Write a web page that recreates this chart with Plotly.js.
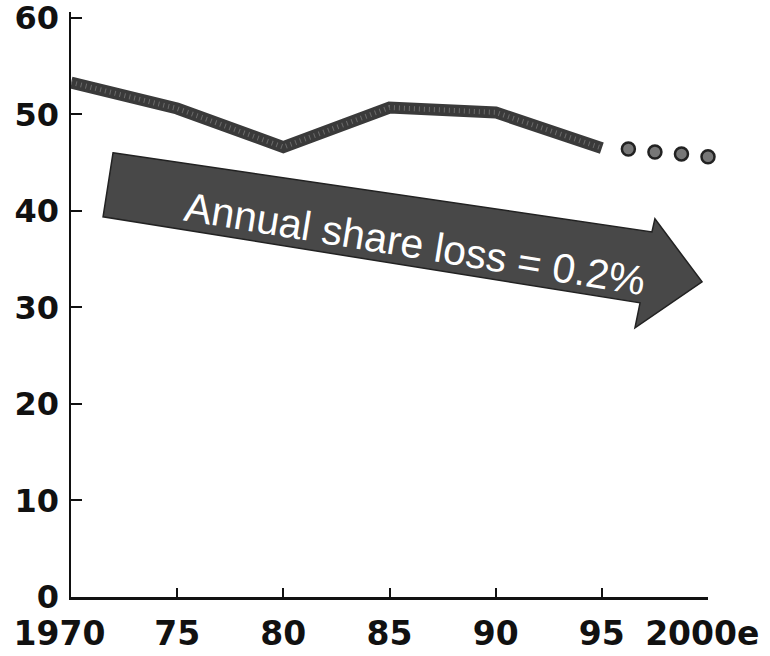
<!DOCTYPE html>
<html>
<head>
<meta charset="utf-8">
<script src="https://cdn.plot.ly/plotly-3.0.1.min.js"></script>
<style>
html,body{margin:0;padding:0;background:#fff;}
#chart{width:770px;height:656px;}
</style>
</head>
<body>
<div id="chart"></div>
<script>
// Actual share (solid line)
const years = [1970, 1975, 1980, 1985, 1990, 1995];
const share = [53.3, 50.6, 46.6, 50.7, 50.2, 46.5];
// Estimate (dotted)
const estYears = [1996.25, 1997.5, 1998.75, 2000];
const estShare = [46.4, 46.1, 45.9, 45.6];
// Axis ticks
const xTickVals = [1970, 1975, 1980, 1985, 1990, 1995, 2000];
const xTickText = ['1970\u00a0\u00a0', '75', '80', '85', '90', '95', '2000e\u00a0'];
const yTickVals = [0, 10, 20, 30, 40, 50, 60];
// Arrow annotation outline (data units)
const arrowX = [1971.98, 1997.36, 1997.50, 1999.72, 1996.56, 1996.80, 1971.51];
const arrowY = [46.01, 37.82, 39.17, 32.64, 27.88, 30.47, 39.38];
const arrowLabel = 'Annual share loss = 0.2%';

const arrowPath = arrowX.map((x, i) => (i === 0 ? 'M' : 'L') + x + ',' + arrowY[i]).join(' ') + ' Z';

const traces = [
  {
    x: years, y: share, type: 'scatter', mode: 'lines',
    line: {color: '#3a3a3a', width: 12},
    cliponaxis: false, hoverinfo: 'skip', showlegend: false
  },
  {
    x: years, y: share, type: 'scatter', mode: 'lines',
    line: {color: 'rgba(255,255,255,0.25)', width: 5, dash: '1px,4px'},
    cliponaxis: false, hoverinfo: 'skip', showlegend: false
  },
  {
    x: estYears, y: estShare, type: 'scatter', mode: 'markers',
    marker: {size: 13, color: '#777777', line: {color: '#222222', width: 2.5}},
    cliponaxis: false, hoverinfo: 'skip', showlegend: false
  }
];

const tickFontX = {family: 'DejaVu Sans', size: 33, color: '#111', weight: 'bold'};
const tickFontY = {family: 'DejaVu Sans', size: 32, color: '#111', weight: 'bold'};

const layout = {
  width: 770, height: 656,
  margin: {l: 71, r: 62, t: 12, b: 59, pad: 0},
  paper_bgcolor: '#ffffff', plot_bgcolor: '#ffffff',
  showlegend: false,
  xaxis: {
    range: [1970, 2000], tickmode: 'array', tickvals: xTickVals, ticktext: xTickText,
    ticks: 'inside', ticklen: 9, tickwidth: 2, tickcolor: '#111',
    showline: true, linecolor: '#111', linewidth: 3,
    showgrid: false, zeroline: false, tickfont: tickFontX,
    ticklabelstandoff: 5, ticklabeloverflow: 'allow'
  },
  yaxis: {
    range: [0, 60.6], tickmode: 'array', tickvals: yTickVals,
    ticks: 'inside', ticklen: 11, tickwidth: 2, tickcolor: '#111',
    showline: true, linecolor: '#111', linewidth: 2.5,
    showgrid: false, zeroline: false, tickfont: tickFontY,
    ticklabelstandoff: 3, ticklabeloverflow: 'allow'
  },
  shapes: [
    {
      type: 'path', xref: 'x', yref: 'y', path: arrowPath,
      fillcolor: '#484848', line: {color: '#222222', width: 1.5}, layer: 'below'
    }
  ],
  annotations: [
    {
      x: 1986.2, y: 36.6, xref: 'x', yref: 'y', text: arrowLabel,
      showarrow: false, textangle: 9.3, xanchor: 'center', yanchor: 'middle',
      font: {family: 'Liberation Sans', size: 41, color: '#ffffff'}
    }
  ]
};

Plotly.newPlot('chart', traces, layout, {displayModeBar: false, staticPlot: true});
</script>
</body>
</html>
